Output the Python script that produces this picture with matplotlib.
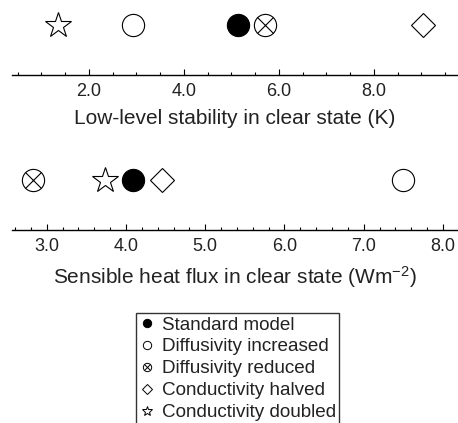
import matplotlib
matplotlib.use('Agg')
import matplotlib.pyplot as plt
from matplotlib.lines import Line2D
from matplotlib.ticker import MultipleLocator, FormatStrFormatter

plt.rcParams['font.family'] = ['Liberation Sans', 'DejaVu Sans']
plt.rcParams['mathtext.fontset'] = 'custom'
plt.rcParams['mathtext.rm'] = 'Liberation Sans'
plt.rcParams['mathtext.default'] = 'rm'

# experiments, in legend order
names = ['Standard model', 'Diffusivity increased', 'Diffusivity reduced',
         'Conductivity halved', 'Conductivity doubled']
stability = [5.14, 2.93, 5.70, 9.03, 1.35]   # K
heatflux = [4.09, 7.50, 2.83, 4.45, 3.73]    # W m-2

W, H = 458, 423
fig = plt.figure(figsize=(W / 100, H / 100), dpi=100)

def px_axes(left, right, line_y, height=75):
    # axes whose bottom spine sits at line_y (pixels from the top)
    return fig.add_axes([left / W, (H - line_y) / H, (right - left) / W, height / H])

def draw_markers(ax, xs, y):
    ms = 16
    ax.plot(xs[0], y, 'o', ms=ms, mfc='black', mec='black', mew=0.8, clip_on=False)
    ax.plot(xs[1], y, 'o', ms=ms, mfc='white', mec='black', mew=0.8, clip_on=False)
    ax.plot(xs[2], y, 'o', ms=ms, mfc='white', mec='black', mew=0.8, clip_on=False)
    ax.plot(xs[2], y, 'x', ms=ms * 0.68, mec='black', mew=0.8, clip_on=False)
    ax.plot(xs[3], y, 'D', ms=ms * 0.78, mfc='white', mec='black', mew=0.8, clip_on=False)
    ax.plot(xs[4], y, '*', ms=ms * 1.2, mfc='white', mec='black', mew=0.8, clip_on=False)

def style_axis(ax, xlim, major, minor, label):
    ax.set_xlim(*xlim)
    ax.set_ylim(0, 1)
    for s in ['top', 'left', 'right']:
        ax.spines[s].set_visible(False)
    ax.spines['bottom'].set_linewidth(1.0)
    ax.set_yticks([])
    ax.xaxis.set_major_locator(MultipleLocator(major))
    ax.xaxis.set_minor_locator(MultipleLocator(minor))
    ax.xaxis.set_major_formatter(FormatStrFormatter('%.1f'))
    ax.tick_params(axis='x', which='major', direction='in', length=4, width=0.8,
                   labelsize=13, pad=6, labelcolor='#222222')
    ax.tick_params(axis='x', which='minor', direction='in', length=2.5, width=0.8)
    ax.set_xlabel(label, fontsize=15, labelpad=6, color='#222222')
    ax.patch.set_visible(False)

ax1 = px_axes(12, 458, 75)
draw_markers(ax1, stability, 0.667)
style_axis(ax1, (0.379, 9.77), 2.0, 0.5, 'Low-level stability in clear state (K)')

ax2 = px_axes(12, 458, 230)
draw_markers(ax2, heatflux, 0.667)
style_axis(ax2, (2.562, 8.19), 1.0, 0.2, 'Sensible heat flux in clear state (Wm$^{-2}$)')

# legend with small markers
lms = 6
handles = [
    Line2D([], [], ls='', marker='o', ms=lms, mfc='black', mec='black', mew=0.7),
    Line2D([], [], ls='', marker='o', ms=lms, mfc='white', mec='black', mew=0.7),
    (Line2D([], [], ls='', marker='o', ms=lms, mfc='white', mec='black', mew=0.7),
     Line2D([], [], ls='', marker='x', ms=lms * 0.68, mec='black', mew=0.7)),
    Line2D([], [], ls='', marker='D', ms=lms * 0.78, mfc='white', mec='black', mew=0.7),
    Line2D([], [], ls='', marker='*', ms=lms * 1.2, mfc='white', mec='black', mew=0.7),
]
leg = fig.legend(handles, names, loc='upper left', bbox_to_anchor=(136 / W, (H - 312.5) / H),
                 fontsize=13.6, frameon=True, fancybox=False, edgecolor='black',
                 handlelength=0.75, handletextpad=0.4, labelspacing=0.25,
                 borderpad=0.2, borderaxespad=0, markerscale=1.0)
leg.get_frame().set_linewidth(1.0)
for t in leg.get_texts():
    t.set_color('#222222')

fig.savefig('out.png', dpi=100)
